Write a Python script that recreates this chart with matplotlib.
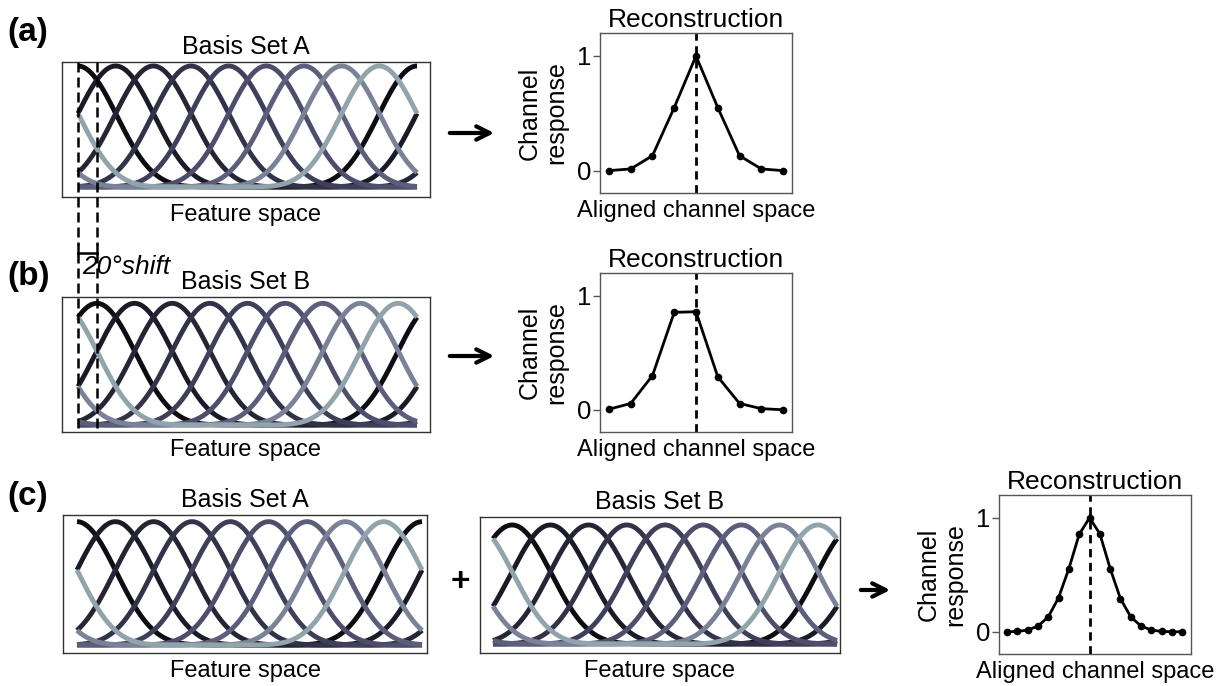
import matplotlib
matplotlib.use('Agg')
import matplotlib.pyplot as plt
import numpy as np
from matplotlib import transforms
from matplotlib.lines import Line2D
from matplotlib.patches import FancyArrowPatch

plt.rcParams['font.family'] = ['Liberation Sans', 'DejaVu Sans']

# ---------------- data ----------------
channel_centers = [0, 40, 80, 120, 160, 200, 240, 280, 320]   # basis set A (deg)
shift_B = 20                                                  # basis set B shift (deg)
basis_power = 8
channel_colors = ['#0c0c12', '#1b1b28', '#252536', '#323248', '#3f3f5a',
                  '#4e4e6c', '#5d5d7c', '#7a8298', '#91a4ac']

recon_A = [0.0, 0.015, 0.13, 0.55, 1.0, 0.55, 0.13, 0.015, 0.0]
recon_B = [0.005, 0.055, 0.30, 0.855, 0.86, 0.29, 0.055, 0.01, 0.0]
recon_C = [0.0, 0.003, 0.015, 0.05, 0.13, 0.30, 0.555, 0.855, 1.0,
           0.86, 0.555, 0.29, 0.13, 0.05, 0.015, 0.003, 0.0, 0.0]
center_A, center_B, center_C = 4, 4, 8

W, H = 1220, 686
fig = plt.figure(figsize=(12.2, 6.86), dpi=100)


def rect(x0, y0, x1, y1):
    return [x0 / W, 1 - y1 / H, (x1 - x0) / W, (y1 - y0) / H]


def draw_basis(ax, shift, xlim, ylim, title):
    x = np.linspace(0, 360, 1441)
    for c, col in zip(channel_centers, channel_colors):
        y = np.cos(np.deg2rad(x - c - shift) / 2) ** basis_power
        ax.plot(x, y, color=col, lw=3.5, solid_capstyle='butt')
    ax.set_xlim(xlim)
    ax.set_ylim(ylim)
    ax.set_xticks([])
    ax.set_yticks([])
    for s in ax.spines.values():
        s.set_color('#333333')
        s.set_linewidth(1.0)
    ax.set_title(title, fontsize=18, pad=6)
    ax.set_xlabel('Feature space', fontsize=17, labelpad=5)


def draw_recon(ax, values, center, xlim):
    xs = np.arange(len(values))
    ax.axvline(center, color='k', ls=(0, (3, 2)), lw=2)
    ax.plot(xs, values, '-o', color='k', lw=2, ms=4.5)
    ax.set_xlim(xlim)
    ax.set_ylim(-0.195, 1.2)
    ax.set_yticks([0, 1])
    ax.set_yticklabels(['0', '1'])
    ax.set_xticks([])
    ax.tick_params(axis='y', labelsize=18.5, length=5, width=1, color='#555555', pad=1.5)
    for s in ax.spines.values():
        s.set_color('#555555')
        s.set_linewidth(1.0)
    ax.set_title('Reconstruction', fontsize=19, pad=4)
    ax.set_xlabel('Aligned channel space', fontsize=17, labelpad=5)
    ax.set_ylabel('Channel\nresponse', fontsize=18, linespacing=1.12)
    ax.yaxis.set_label_coords(-0.165, 0.5)


# panel (a)
axA = fig.add_axes(rect(62, 62, 430, 197))
draw_basis(axA, 0, (-17, 373.8), (-0.083, 1.033), 'Basis Set A')
axRA = fig.add_axes(rect(600, 33, 792, 193))
draw_recon(axRA, recon_A, center_A, (-0.41, 8.41))

# panel (b)
axB = fig.add_axes(rect(62, 297, 430, 432))
draw_basis(axB, shift_B, (-17, 373.8), (-0.058, 1.052), 'Basis Set B')
axRB = fig.add_axes(rect(600, 273, 792, 432))
draw_recon(axRB, recon_B, center_B, (-0.41, 8.41))

# panel (c)
axCA = fig.add_axes(rect(63, 515, 427, 653))
draw_basis(axCA, 0, (-14.6, 365.2), (-0.065, 1.054), 'Basis Set A')
axCB = fig.add_axes(rect(480, 517, 840, 653))
draw_basis(axCB, shift_B, (-13.6, 363.1), (-0.076, 1.067), 'Basis Set B')
axRC = fig.add_axes(rect(999, 495, 1191, 654))
draw_recon(axRC, recon_C, center_C, (-0.78, 17.84))

# dashed shift guides (x in feature space of basis set A)
bt = transforms.blended_transform_factory(axA.transData, fig.transFigure)
for xv in (0, shift_B):
    fig.add_artist(Line2D([xv, xv], [1 - 62 / H, 1 - 245 / H], transform=bt,
                          color='k', lw=1.8, ls=(0, (4, 2))))
    fig.add_artist(Line2D([xv, xv], [1 - 253 / H, 1 - 430 / H], transform=bt,
                          color='k', lw=1.8, ls=(0, (4, 2))))
    fig.add_artist(Line2D([xv, xv], [1 - 245 / H, 1 - 253 / H], transform=bt,
                          color='k', lw=1.8))
fig.add_artist(Line2D([0, shift_B], [1 - 253 / H, 1 - 253 / H], transform=bt,
                      color='k', lw=1.8))
fig.text(82 / W, 1 - 267 / H, '20°shift', fontsize=19, style='italic',
         ha='left', va='center')

# arrows
for (x0, x1, yy) in [(447, 497, 133), (447, 497, 356), (858, 893, 590)]:
    fig.add_artist(FancyArrowPatch((x0 / W, 1 - yy / H), (x1 / W, 1 - yy / H),
                                   transform=fig.transFigure, arrowstyle='->',
                                   mutation_scale=24, lw=3, color='k'))

fig.text(460 / W, 1 - 583 / H, '+', fontsize=24, fontweight='bold',
         ha='center', va='center')

# panel labels
for lab, yy in [('(a)', 33), ('(b)', 276), ('(c)', 497)]:
    fig.text(7 / W, 1 - yy / H, lab, fontsize=24, fontweight='bold',
             ha='left', va='center')

fig.savefig('out.png', dpi=100)
